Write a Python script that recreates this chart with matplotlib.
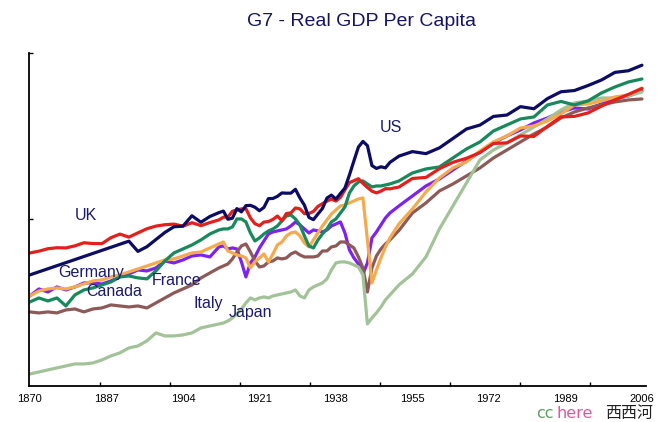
import numpy as np
import matplotlib
matplotlib.use("Agg")
import matplotlib.pyplot as plt
from matplotlib.ticker import NullLocator

nan = np.nan

# ---- data (GDP per capita) ----
years = list(range(1870, 1913, 2)) + list(range(1913, 1951)) + list(range(1952, 2007, 3))

us = [2445, nan, nan, nan, nan, nan, nan, nan, nan, nan, nan,
      3680, 3251, 3441, 3753, 4091, 4382, 4414, 5007, 4629, 4964, 5201,
      5301, 4799, 4864, 5459, 5248, 5659, 5680, 5552, 5323, 5540,
      6164, 6174, 6336, 6604, 6581, 6587, 6899, 6213, 5691, 4908,
      4777, 5114, 5467, 6204, 6430, 6126, 6561, 7010, 8206, 9741,
      11518, 12333, 11709, 9197, 8886, 9065, 8944, 9561,
      10316, 10897, 10631, 11402, 12773, 14330, 15030, 16689, 16975, 18789,
      18325, 20717, 22499, 22849, 24264, 25950, 28467, 29037, 31049]

uk = [3190, 3259, 3358, 3398, 3390, 3477, 3609, 3575, 3571, 3837, 4009,
      3864, 4068, 4277, 4417, 4492, 4525, 4414, 4602, 4443, 4611, 4762,
      4921, 4927, 5288, 5381, 5437, 5459, 4877, 4548, 4439, 4637,
      4668, 4788, 4990, 4710, 5146, 5185, 5503, 5441, 5138, 5148,
      5277, 5608, 5797, 5980, 6124, 5983, 6262, 6856, 7482, 7654,
      7846, 7413, 7056, 6746, 6604, 6745, 6956, 6939,
      7091, 7868, 7966, 8857, 9568, 10049, 10767, 12025, 12115, 13167,
      13100, 14800, 16600, 16700, 17400, 18900, 20400, 21800, 23400]

canada = [1762, 1849, 1783, 1849, 1679, 1918, 2037, 2087, 2165, 2245, 2386,
          2414, 2358, 2330, 2565, 2896, 3190, 3348, 3515, 3735, 4016, 4216,
          4270, 4270, 4372, 4817, 4817, 4645, 4065, 3690, 3826, 4016,
          4165, 4268, 4425, 4702, 4995, 5056, 4817, 4479, 3920, 3473,
          3389, 3735, 4016, 4268, 4645, 4817, 5180, 5571, 6601, 7185,
          7543, 7635, 7362, 7099, 7185, 7185, 7273, 7362,
          7635, 8411, 8829, 9046, 10088, 11252, 12248, 13994, 15050, 16185,
          16584, 19180, 20010, 19180, 20131, 22180, 23855, 25346, 26283]

france = [1895, 2062, 1988, 2113, 2037, 2113, 2218, 2218, 2190, 2272, 2386,
          2474, 2596, 2565, 2660, 2896, 2826, 2931, 3076, 3114, 3040, 3431,
          3473, 3348, 3390, 3348, 2861, 2386, 2826, 3040, 3390, 3690,
          4016, 4115, 4165, 4216, 4268, 4425, 4645, 4479, 4268, 4065,
          4216, 4165, 4115, 4216, 4425, 4534, 4645, 4065, 3308, 3003,
          2792, 2474, 2826, 3826, 4115, 4479, 4876, 5180,
          5639, 6365, 7185, 7822, 8723, 9728, 10850, 12100, 13171, 14165,
          15419, 16382, 17618, 18492, 18270, 19412, 20626, 21389, 22725]

germany = [1895, 2012, 2062, 2087, 2062, 2113, 2192, 2272, 2300, 2386, 2444,
           2534, 2628, 2725, 2826, 2931, 2967, 3076, 3190, 3229, 3389, 3558,
           3645, 3268, 3190, 3114, 3076, 3003, 2660, 2861, 3003, 3152,
           2861, 3152, 3515, 3645, 3920, 4065, 4115, 3920, 3601, 3431,
           3735, 4065, 4425, 4759, 5118, 5372, 5639, 5708, 5848, 5991,
           6138, 6213, 3735, 2218, 2596, 3003, 3431, 3826,
           4534, 5438, 6682, 7917, 8937, 9611, 10982, 12250, 13171, 14512,
           14869, 15797, 17197, 19178, 19412, 20130, 21131, 21650, 23566]

italy = [1561, 1542, 1561, 1542, 1599, 1618, 1561, 1618, 1638, 1699, 1678,
         1658, 1678, 1638, 1741, 1849, 1965, 2062, 2165, 2356, 2504, 2660,
         2725, 2792, 2967, 3229, 3473, 3558, 3229, 2896, 2692, 2725,
         2861, 2896, 3003, 2967, 3003, 3152, 3229, 3114, 3040, 3040,
         3040, 3076, 3268, 3268, 3431, 3473, 3645, 3645, 3515, 3389,
         3040, 2660, 1988, 2660, 3076, 3348, 3558, 3735,
         4190, 5180, 5848, 6764, 7362, 8111, 8937, 10088, 11116, 12248,
         13495, 14690, 16382, 17618, 18492, 19178, 19890, 20377, 20626]

japan = [736, 754, 773, 792, 811, 831, 831, 841, 872, 916, 950,
         1009, 1033, 1099, 1210, 1167, 1167, 1181, 1210, 1286, 1317, 1349,
         1365, 1399, 1451, 1523, 1618, 1741, 1849, 1805, 1849, 1872,
         1849, 1895, 1918, 1941, 1965, 1988, 2037, 1895, 1849, 2037,
         2113, 2165, 2218, 2328, 2596, 2826, 2861, 2861, 2826, 2758,
         2692, 2444, 1349, 1451, 1542, 1658, 1805, 1918,
         2165, 2474, 3040, 4268, 5639, 7451, 9847, 11116, 12100, 13332,
         14690, 16185, 18050, 19650, 20130, 20880, 20880, 21390, 22460]

tick_years = [1870, 1887, 1904, 1921, 1938, 1955, 1972, 1989, 2006]

# ---- styling ----
series = [
    (france, "#7d22f0"),
    (italy, "#8e5a58"),
    (japan, "#a2c398"),
    (germany, "#f5aa4e"),
    (canada, "#17895c"),
    (uk, "#e3201c"),
    (us, "#0c0c66"),
]
label_pos = {
    "UK": (1880.0, 4759), "US": (1947.8, 13876), "Germany": (1876.3, 2386),
    "Canada": (1882.6, 1895), "France": (1897.0, 2165), "Italy": (1906.3, 1638),
    "Japan": (1914.1, 1469),
}
navy = "#1a1a6e"
sans = ["Liberation Sans", "DejaVu Sans"]

fig = plt.figure(figsize=(6.59, 4.22), dpi=100)
ax = fig.add_axes([29 / 659, 36 / 422, 617 / 659, 333 / 422])

x = np.array(years, float)
for vals, color in series:
    y = np.array(vals, float)
    m = ~np.isnan(y)
    ax.plot(x[m], y[m], color=color, lw=2.3, solid_joinstyle="round",
            solid_capstyle="round")

ax.set_yscale("log")
ax.set_ylim(636, 36000)
ax.set_xlim(1869.8, 2006.9)
for s in ("top", "right"):
    ax.spines[s].set_visible(False)
for s in ("left", "bottom"):
    ax.spines[s].set_linewidth(1.3)
    ax.spines[s].set_color("black")

ax.set_yticks([4790, 36000])
ax.set_yticklabels([])
ax.yaxis.set_minor_locator(NullLocator())
ax.tick_params(axis="y", which="major", direction="in", length=3, width=1)

ax.set_xticks(tick_years)
ax.set_xticklabels([str(v) for v in tick_years])
for t in ax.get_xticklabels():
    t.set_fontfamily(sans)
    t.set_fontsize(8)
ax.tick_params(axis="x", which="major", length=0, pad=6)
minor_ticks = [1870 + k * 70 / 4.5 for k in range(1, 9)]
ax.set_xticks(minor_ticks, minor=True)
ax.tick_params(axis="x", which="minor", direction="in", length=3, width=1)

for name, (lx, ly) in label_pos.items():
    ax.text(lx, ly, name, fontsize=11.5, color=navy, family=sans,
            ha="left", va="baseline")

fig.text(361.5 / 659, 1 - 26 / 422, "G7 - Real GDP Per Capita", ha="center",
         va="baseline", fontsize=14, color="#141464", family=sans)

# watermark
fig.text(536 / 659, 1 - 418 / 422, "cc", fontsize=11.5, color="#5e9f5e",
         family="DejaVu Sans", ha="left", va="baseline")
fig.text(557 / 659, 1 - 418 / 422, "here", fontsize=11.5, color="#e0589c",
         family="DejaVu Sans", ha="left", va="baseline")
fig.text(605 / 659, 1 - 418 / 422, "西西河", fontsize=11.5, color="#202020",
         family=["Noto Sans CJK SC", "DejaVu Sans"], ha="left", va="baseline")

fig.savefig("out.png", dpi=100)
